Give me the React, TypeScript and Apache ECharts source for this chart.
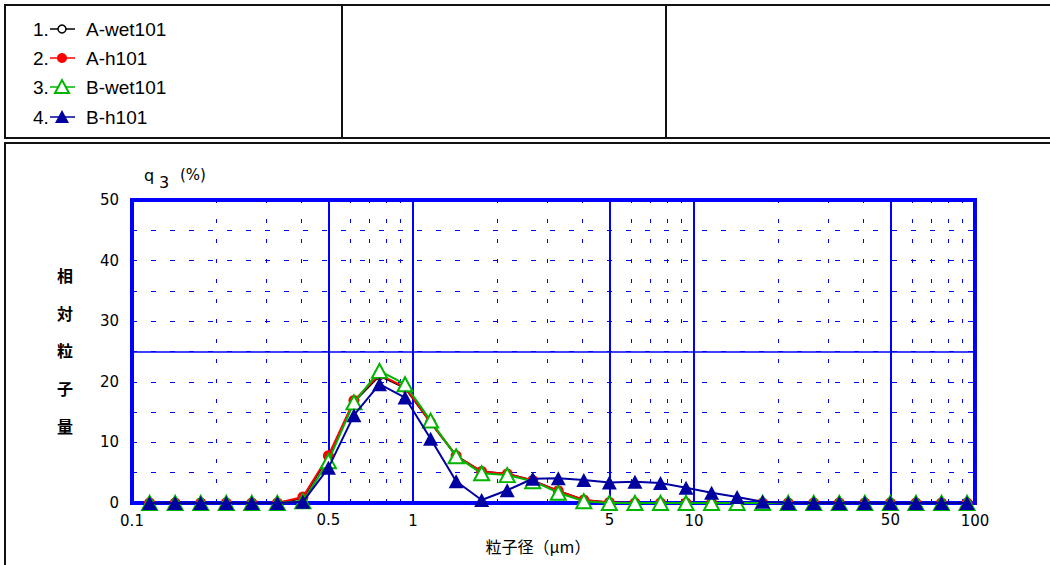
import React, { useEffect, useRef } from "react";
import * as echarts from "echarts";

// particle sizes (µm), log-spaced measurement channels
const sizes = [
  0.1155, 0.1424, 0.1756, 0.2165, 0.2669, 0.329, 0.4056, 0.5, 0.6164, 0.7599, 0.9368,
  1.155, 1.424, 1.755, 2.164, 2.668, 3.289, 4.054, 4.998, 6.164, 7.599, 9.368,
  11.55, 14.24, 17.55, 21.64, 26.68, 32.89, 40.54, 49.98, 61.64, 75.99, 93.68,
];
const aWet101 = [
  0, 0, 0, 0, 0, 0, 0.8, 7.6, 16.7, 21.0, 19.0,
  13.3, 7.8, 5.2, 4.8, 3.7, 2.0, 0.5, 0.1, 0, 0, 0,
  0, 0, 0, 0, 0, 0, 0, 0, 0, 0, 0,
];
const aH101 = [
  0, 0, 0, 0, 0, 0, 1.0, 7.8, 16.9, 21.2, 19.1,
  13.3, 7.8, 5.2, 4.8, 3.7, 2.0, 0.5, 0.1, 0, 0, 0,
  0, 0, 0, 0, 0, 0, 0, 0, 0, 0, 0,
];
const bWet101 = [
  0, 0, 0, 0, 0, 0, 0.3, 6.9, 16.6, 21.8, 19.6,
  13.6, 7.7, 4.9, 4.6, 3.6, 1.7, 0.3, 0, 0, 0, 0,
  0, 0, 0, 0, 0, 0, 0, 0, 0, 0, 0,
];
const bH101 = [
  0, 0, 0, 0, 0, 0, 0.2, 5.8, 14.5, 19.6, 17.4,
  10.6, 3.6, 0.5, 2.1, 4.0, 4.1, 3.8, 3.4, 3.5, 3.3, 2.5,
  1.7, 1.0, 0.2, 0, 0, 0, 0, 0, 0, 0, 0,
];
const seriesNames = ["A-wet101", "A-h101", "B-wet101", "B-h101"];
const xMidLabels = [0.5, 5, 50];
const xSolidLines = [0.5, 1, 5, 10, 50];
const xDashedLines = [0.2, 0.3, 0.4, 0.6, 0.7, 0.8, 0.9, 2, 3, 4, 6, 7, 8, 9, 20, 30, 40, 60, 70, 80, 90];
const ySolidLine = 25;
const yTitleChars = ["相", "対", "粒", "子", "量"];
const xTitle = "粒子径（μm）";

const BLUE = "#0000ff";
const colors = ["#000000", "#ff0000", "#00b400", "#0000a0"];

export default function App() {
  const ref = useRef<HTMLDivElement>(null);
  useEffect(() => {
    const chart = echarts.init(ref.current!, null, { renderer: "svg" });
    const pair = (vals: number[]) => sizes.map((s, i) => [s, vals[i]]);
    const labelFont = { fontFamily: "DejaVu Sans", fontSize: 15, color: "#000" };
    const fmt = (v: number) => String(+Number(v).toPrecision(6));

    const markLineData: any[] = [
      ...xSolidLines.map((v) => ({
        xAxis: v,
        lineStyle: { type: "solid", width: 2, color: BLUE },
        label: {
          show: xMidLabels.includes(v),
          position: "start",
          formatter: fmt(v),
          distance: 9,
          ...labelFont,
        },
      })),
      ...xDashedLines.map((v) => ({
        xAxis: v,
        lineStyle: { type: [4, 16], width: 1, color: BLUE },
        label: { show: false },
      })),
      { yAxis: ySolidLine, lineStyle: { type: "solid", width: 1.5, color: BLUE }, label: { show: false } },
    ];

    const symbolDefs = [
      { symbol: "circle", symbolSize: 8, itemStyle: { color: "#fff", borderColor: colors[0], borderWidth: 1.5 } },
      { symbol: "circle", symbolSize: 11, itemStyle: { color: colors[1], borderColor: colors[1], borderWidth: 0 } },
      { symbol: "triangle", symbolSize: [15, 14], itemStyle: { color: "#fff", borderColor: colors[2], borderWidth: 2 } },
      { symbol: "triangle", symbolSize: [15, 14], itemStyle: { color: colors[3], borderColor: colors[3], borderWidth: 0 } },
    ];
    const datas = [aWet101, aH101, bWet101, bH101];

    const series: any[] = datas.map((d, i) => ({
      type: "line",
      name: seriesNames[i],
      data: pair(d),
      showAllSymbol: true,
      ...symbolDefs[i],
      lineStyle: { color: colors[i], width: 2 },
      z: 3 + i,
      emphasis: { disabled: true },
      ...(i === 0
        ? {
            markLine: {
              silent: true,
              symbol: ["none", "none"],
              z: 1,
              data: markLineData,
              emphasis: { disabled: true },
            },
          }
        : {}),
    }));

    // legend graphics
    const rows = [29, 58, 87, 117];
    const legendEls: any[] = [];
    rows.forEach((y, i) => {
      legendEls.push({
        type: "text",
        x: 33,
        y,
        style: { text: `${i + 1}.`, fontFamily: "Liberation Sans", fontSize: 19, fill: "#000", verticalAlign: "middle" },
      });
      legendEls.push({
        type: "line",
        shape: { x1: 50, y1: y, x2: 75, y2: y },
        style: { stroke: colors[i], lineWidth: 1.5 },
      });
      if (i === 0) {
        legendEls.push({ type: "circle", shape: { cx: 62, cy: y, r: 4 }, style: { fill: "#fff", stroke: "#000", lineWidth: 1.5 } });
      } else if (i === 1) {
        legendEls.push({ type: "circle", shape: { cx: 62, cy: y, r: 5 }, style: { fill: colors[1] } });
      } else {
        legendEls.push({
          type: "polygon",
          shape: { points: [[55, y + 6], [69, y + 6], [62, y - 7]] },
          style: i === 2 ? { fill: "#fff", stroke: colors[2], lineWidth: 2 } : { fill: colors[3] },
        });
      }
      legendEls.push({
        type: "text",
        x: 86,
        y,
        style: { text: seriesNames[i], fontFamily: "Liberation Sans", fontSize: 19, fill: "#000", verticalAlign: "middle" },
      });
    });

    const boxStyle = { fill: "none", stroke: "#111", lineWidth: 2 };
    const graphic: any[] = [
      { type: "rect", shape: { x: 5, y: 5, width: 1070, height: 133 }, style: boxStyle },
      { type: "line", shape: { x1: 342, y1: 5, x2: 342, y2: 138 }, style: { stroke: "#111", lineWidth: 2 } },
      { type: "line", shape: { x1: 666, y1: 5, x2: 666, y2: 138 }, style: { stroke: "#111", lineWidth: 2 } },
      { type: "rect", shape: { x: 5, y: 143, width: 1070, height: 450 }, style: boxStyle },
      ...legendEls,
      { type: "text", x: 144, y: 175, style: { text: "q", fontFamily: "DejaVu Sans", fontSize: 16, fill: "#000", verticalAlign: "middle" } },
      { type: "text", x: 159, y: 182, style: { text: "3", fontFamily: "DejaVu Sans", fontSize: 16, fill: "#000", verticalAlign: "middle" } },
      { type: "text", x: 180, y: 175, style: { text: "(%)", fontFamily: "DejaVu Sans", fontSize: 15, fill: "#000", verticalAlign: "middle" } },
      ...yTitleChars.map((c, i) => ({
        type: "text",
        x: 65,
        y: 275 + i * 37.7,
        style: { text: c, fontFamily: "Noto Sans CJK JP", fontSize: 16, fontWeight: "bold", fill: "#000", align: "center", verticalAlign: "middle" },
      })),
      {
        type: "text",
        x: 538,
        y: 546,
        style: { text: xTitle, fontFamily: "Noto Sans CJK JP", fontSize: 16, fill: "#000", align: "center", verticalAlign: "middle" },
      },
    ];

    chart.setOption({
      animation: false,
      grid: {
        left: 132,
        right: 75,
        top: 200,
        bottom: 62,
        show: true,
        borderColor: BLUE,
        borderWidth: 4,
        backgroundColor: "transparent",
      },
      xAxis: {
        type: "log",
        logBase: 10,
        min: 0.1,
        max: 100,
        axisLine: { show: false },
        axisTick: { show: false },
        splitLine: { show: false },
        minorTick: { show: false },
        minorSplitLine: { show: false },
        axisLabel: { ...labelFont, margin: 10, formatter: (v: number) => fmt(v) },
      },
      yAxis: {
        type: "value",
        min: 0,
        max: 50,
        interval: 5,
        axisLine: { show: false },
        axisTick: { show: false },
        splitLine: { show: true, lineStyle: { color: BLUE, width: 1, type: [5, 14] } },
        axisLabel: { ...labelFont, margin: 13, formatter: (v: number) => (v % 10 === 0 ? String(v) : "") },
      },
      graphic,
      series,
    });
    return () => chart.dispose();
  }, []);
  return (
    <div
      ref={ref}
      style={{ position: "fixed", left: 0, top: 0, width: 1050, height: 565, background: "#fff" }}
    />
  );
}
